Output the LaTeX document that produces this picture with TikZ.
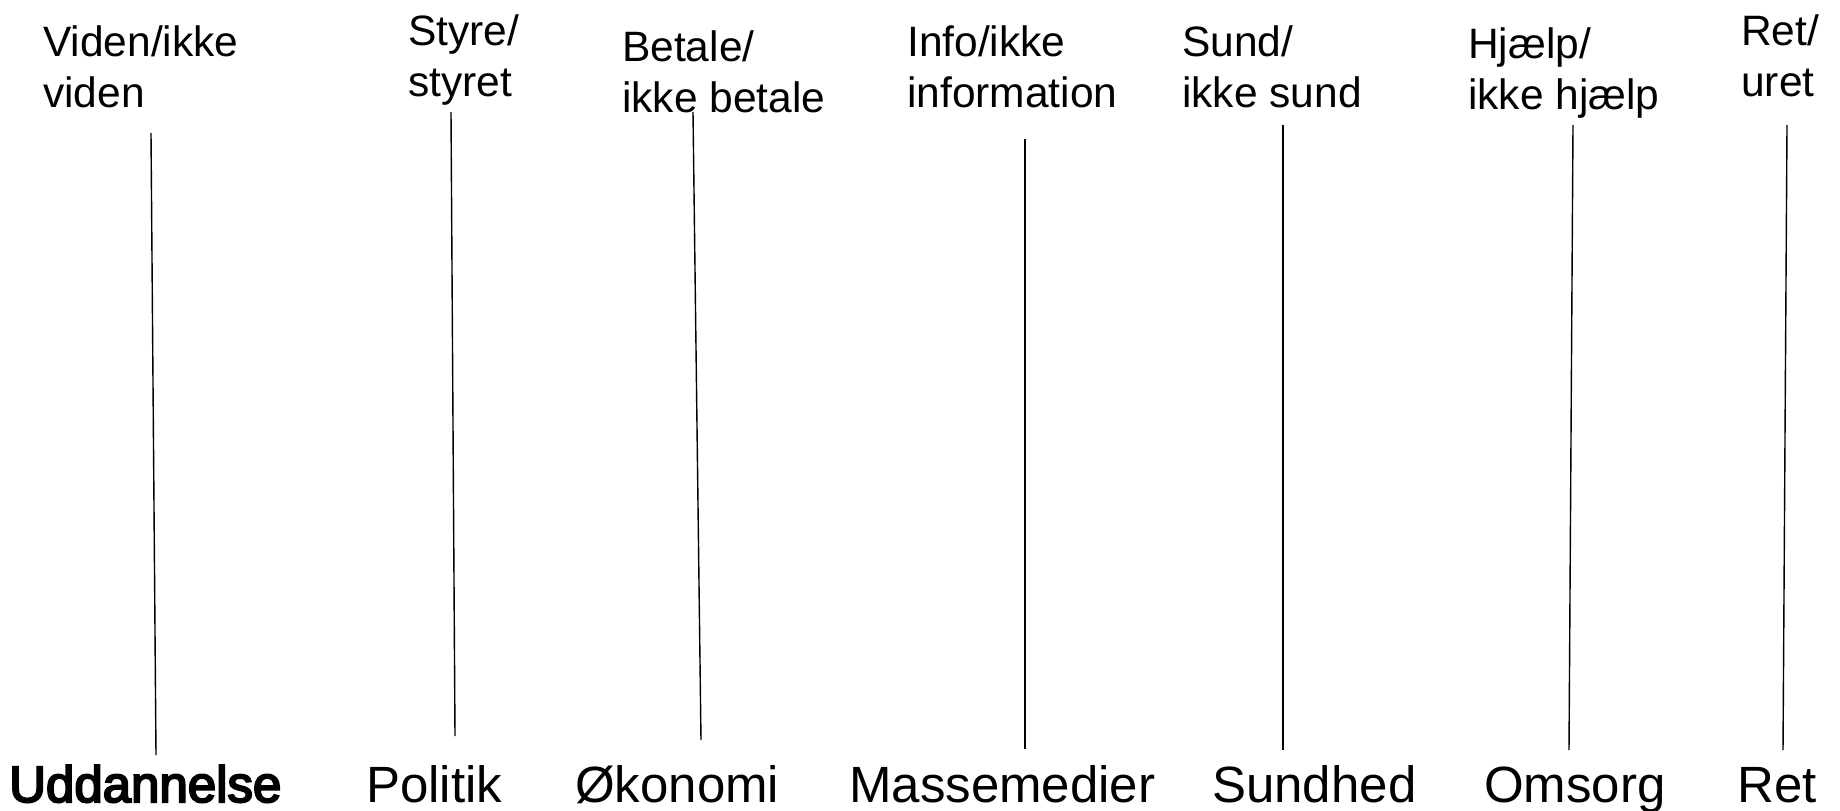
\documentclass[tikz,border=0pt]{standalone}
\usepackage{fontspec}
\setmainfont{Liberation Sans}
\newfontfamily\fbold[FakeBold=4]{Liberation Sans}
\begin{document}
\begin{tikzpicture}[x=1pt,y=-1pt,
  toplab/.style={anchor=north west,inner sep=0pt,align=left,font=\fontsize{42.5}{51}\selectfont},
  botlab/.style={anchor=base west,inner sep=0pt,font=\fontsize{51}{60}\selectfont},
  axis/.style={line width=1.4pt,black}]
\useasboundingbox (0,0) rectangle (1840,811);
% top labels
\node[toplab] (v1) at (43,25.5) {Viden/ikke\\viden};
\node[toplab] (v2) at (408,14.5) {Styre/\\styret};
\node[toplab] (v3) at (622,30.5) {Betale/\\ikke betale};
\node[toplab] (v4) at (907,26) {Info/ikke\\information};
\node[toplab] (v5) at (1182,26) {Sund/\\ikke sund};
\node[toplab] (v6) at (1468,28) {Hjælp/\\ikke hjælp};
\node[toplab] (v7) at (1741,14.5) {Ret/\\uret};
% bottom labels
\node[botlab,font=\fontsize{51}{60}\fbold] (s1) at (9,802) {Uddannelse};
\node[botlab] (s2) at (366,802) {Politik};
\node[botlab] (s3) at (575,802) {Økonomi};
\node[botlab] (s4) at (849,802) {Massemedier};
\node[botlab] (s5) at (1212,802) {Sundhed};
\node[botlab] (s6) at (1484,802) {Omsorg};
\node[botlab] (s7) at (1737,802) {Ret};
% line ends
\coordinate (t1) at (151,133); \coordinate (b1) at (156,755);
\coordinate (t2) at (451,112); \coordinate (b2) at (455,736);
\coordinate (t3) at (693,112); \coordinate (b3) at (701,740);
\coordinate (t4) at (1025,139); \coordinate (b4) at (1025,749);
\coordinate (t5) at (1283,125); \coordinate (b5) at (1283,750);
\coordinate (t6) at (1573,125); \coordinate (b6) at (1569,750);
\coordinate (t7) at (1787,125); \coordinate (b7) at (1783,750);
\foreach \i in {1,...,7}{\draw[axis] (t\i) -- (b\i);}
\end{tikzpicture}
\end{document}
